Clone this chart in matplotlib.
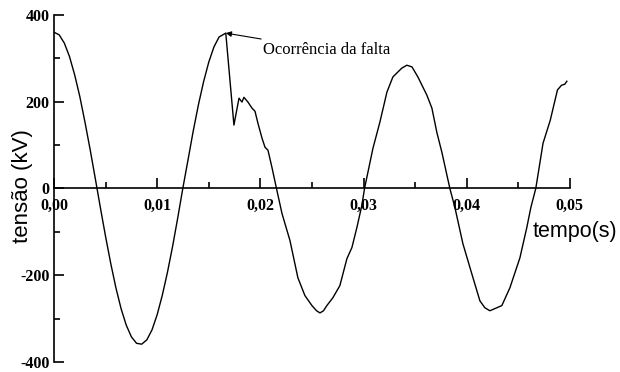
import numpy as np
import matplotlib
matplotlib.use("Agg")
import matplotlib.pyplot as plt
from matplotlib.ticker import MultipleLocator, FuncFormatter

# tensão (t em s, v em kV)
t = [0.0, 0.0005, 0.001, 0.0015, 0.002, 0.0025, 0.003, 0.0035, 0.004, 0.0045,
     0.005, 0.0055, 0.006, 0.0065, 0.007, 0.0075, 0.008, 0.0085, 0.009, 0.0095,
     0.010, 0.0105, 0.011, 0.0115, 0.012, 0.0125, 0.013, 0.0135, 0.014, 0.0145,
     0.015, 0.0155, 0.016, 0.01665,
     0.01744, 0.01793, 0.01822, 0.01841, 0.0188, 0.01919, 0.01948, 0.01977,
     0.02016, 0.02045, 0.02074, 0.02112, 0.02161, 0.0221, 0.02287, 0.02364,
     0.02432, 0.025, 0.02545, 0.02578, 0.02612, 0.02645, 0.02703, 0.02771,
     0.02839, 0.02888, 0.02936, 0.02984, 0.0301, 0.03091, 0.03159, 0.03227,
     0.03285, 0.0337, 0.0342, 0.0347, 0.03527, 0.03614, 0.03663, 0.03711,
     0.0376, 0.03837, 0.03886, 0.03963, 0.0405, 0.04128, 0.04176, 0.04225,
     0.04293, 0.04341, 0.04419, 0.04516, 0.04583, 0.04622, 0.0467, 0.0474,
     0.0481, 0.0488, 0.0492, 0.0495, 0.04971]
v = [360, 354, 335, 304, 262, 212, 153, 90, 23, -45,
     -111, -173, -229, -277, -315, -342, -357, -359, -349, -326,
     -291, -246, -193, -133, -67, 2, 67, 133, 193, 246,
     291, 326, 349, 358,
     146, 208, 199, 210, 199, 185, 178, 150,
     116, 95, 88, 49, -5, -58, -120, -206,
     -247, -270, -282, -287, -282, -270, -252, -224,
     -162, -136, -90, -39, 0, 92, 153, 222,
     257, 277, 284, 280, 257, 215, 185, 129,
     83, 0, -44, -127, -197, -259, -275, -282,
     -275, -270, -229, -160, -90, -44, 0, 104,
     157, 227, 238, 240, 247]

fig = plt.figure(figsize=(6.2, 3.72), dpi=100)
ax = fig.add_axes([0.0871, 0.027, 0.832, 0.933])

ax.plot(t, v, color='k', lw=1.0)

ax.set_xlim(0, 0.05)
ax.set_ylim(-400, 400)

ax.spines['top'].set_visible(False)
ax.spines['right'].set_visible(False)
ax.spines['bottom'].set_position(('data', 0))
ax.spines['left'].set_linewidth(1.2)
ax.spines['bottom'].set_linewidth(1.2)

ax.xaxis.set_major_locator(MultipleLocator(0.01))
ax.xaxis.set_minor_locator(MultipleLocator(0.005))
ax.yaxis.set_major_locator(MultipleLocator(200))
ax.yaxis.set_minor_locator(MultipleLocator(100))
ax.xaxis.set_major_formatter(FuncFormatter(lambda x, p: ('%.2f' % x).replace('.', ',')))
ax.yaxis.set_major_formatter(FuncFormatter(lambda y, p: '%d' % y))

ax.tick_params(which='major', direction='in', length=7, width=1.2)
ax.tick_params(which='minor', direction='in', length=4.5, width=1.2)
ax.tick_params(axis='x', which='major', pad=6.5)
ax.tick_params(axis='y', which='major', pad=3)
for lab in ax.get_xticklabels() + ax.get_yticklabels():
    lab.set_family('Liberation Serif')
    lab.set_fontweight('bold')
    lab.set_fontsize(11.5)

fig.text(0.036, 0.501, 'tensão (kV)', rotation=90, ha='center', va='center',
         family='Liberation Sans', fontsize=16)
ax.text(0.05456, -99, 'tempo(s)', ha='right', va='center', clip_on=False,
        family='Liberation Sans', fontsize=15.5)

ax.annotate('Ocorrência da falta', xy=(0.01665, 358), xytext=(0.0203, 319),
            ha='left', va='center', family='Liberation Serif', fontsize=12,
            arrowprops=dict(arrowstyle='-|>', color='k', lw=0.8,
                            mutation_scale=8, shrinkA=1, shrinkB=0))

fig.savefig('out.png', dpi=100)
